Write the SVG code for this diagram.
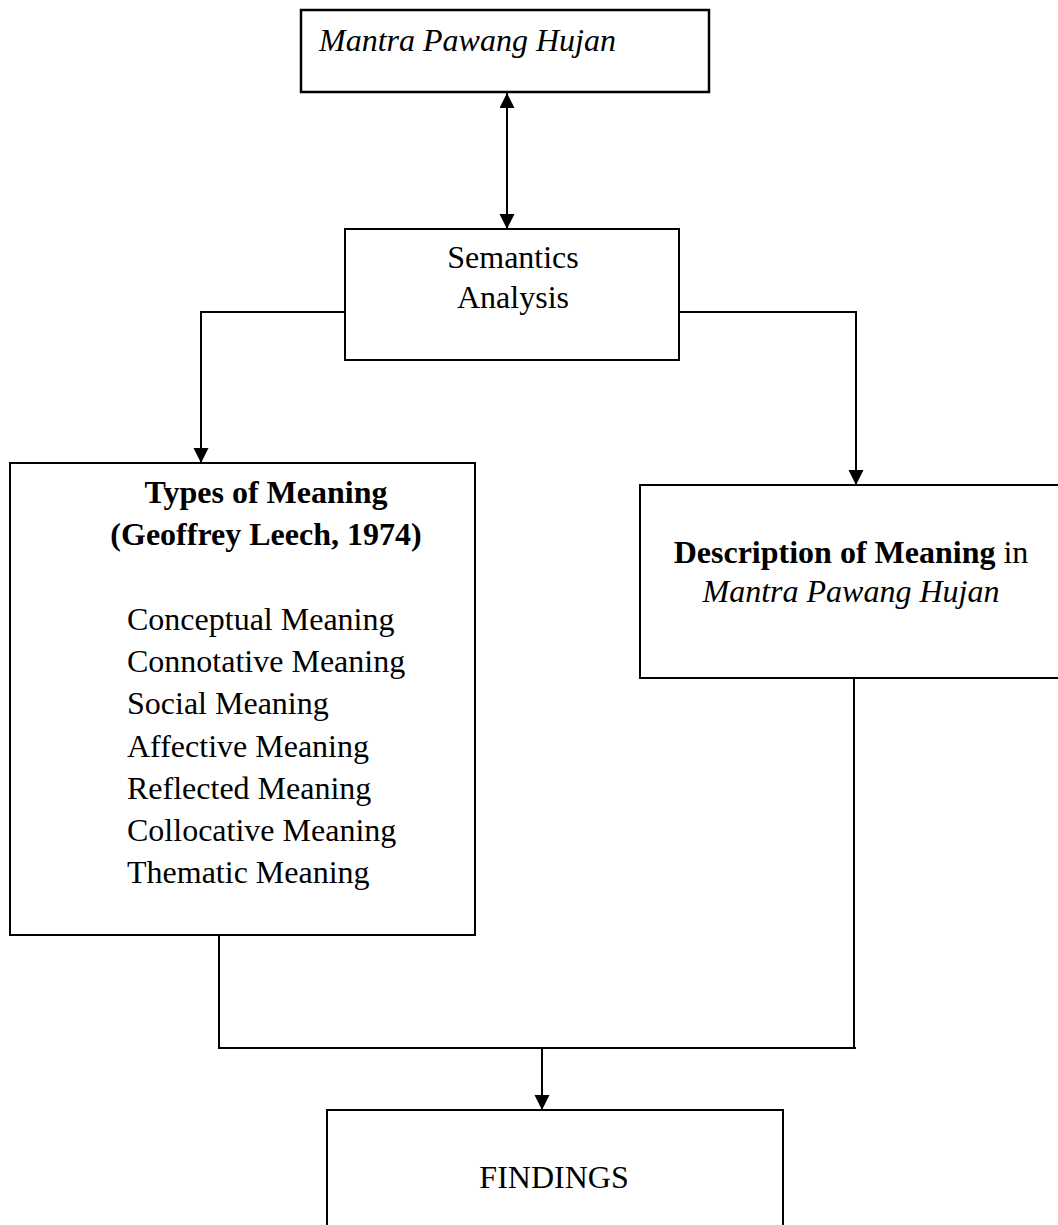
<svg xmlns="http://www.w3.org/2000/svg" width="1058" height="1225" viewBox="0 0 1058 1225">
<style>
.box{fill:#fff;stroke:#000;stroke-width:2}
.t{font-family:"Liberation Serif","Times New Roman",serif;font-size:32px;fill:#000}
.b{font-weight:bold}
.i{font-style:italic}
.c{fill:none;stroke:#000;stroke-width:2}
</style>
<defs>
<marker id="ah" markerUnits="userSpaceOnUse" markerWidth="16" markerHeight="16" refX="15" refY="7.5" orient="auto-start-reverse">
<path d="M0,0 L15,7.5 L0,15 z" fill="#000"/>
</marker>
</defs>
<rect width="1058" height="1225" fill="#fff"/>
<g id="connectors">
<line class="c" x1="507" y1="93" x2="507" y2="229" marker-start="url(#ah)" marker-end="url(#ah)"/>
<path class="c" d="M345,312 H201 V463" marker-end="url(#ah)"/>
<path class="c" d="M679,312 H856 V485" marker-end="url(#ah)"/>
<path class="c" d="M219,936 V1048 H856"/>
<path class="c" d="M854,678 V1048"/>
<line class="c" x1="542" y1="1048" x2="542" y2="1110" marker-end="url(#ah)"/>
</g>
<g id="mantra">
<rect class="box" x="301" y="10" width="408" height="82" style="stroke-width:2.5"/>
<text class="t i" x="319" y="51">Mantra Pawang Hujan</text>
</g>
<g id="semantics">
<rect class="box" x="345" y="229" width="334" height="131"/>
<text class="t" x="513" y="268" text-anchor="middle">Semantics</text>
<text class="t" x="513" y="308" text-anchor="middle">Analysis</text>
</g>
<g id="types">
<rect class="box" x="10" y="463" width="465" height="472"/>
<text class="t b" x="266" y="503" text-anchor="middle">Types of Meaning</text>
<text class="t b" x="266" y="545" text-anchor="middle">(Geoffrey Leech, 1974)</text>
<text class="t" x="127" y="630">Conceptual Meaning</text>
<text class="t" x="127" y="672">Connotative Meaning</text>
<text class="t" x="127" y="714">Social Meaning</text>
<text class="t" x="127" y="757">Affective Meaning</text>
<text class="t" x="127" y="799">Reflected Meaning</text>
<text class="t" x="127" y="841">Collocative Meaning</text>
<text class="t" x="127" y="883">Thematic Meaning</text>
</g>
<g id="description">
<rect class="box" x="640" y="485" width="430" height="193"/>
<text class="t" x="851" y="563" text-anchor="middle"><tspan class="b">Description of Meaning</tspan> in</text>
<text class="t i" x="851" y="602" text-anchor="middle">Mantra Pawang Hujan</text>
</g>
<g id="findings">
<rect class="box" x="327" y="1110" width="456" height="130"/>
<text class="t" x="554" y="1188" text-anchor="middle">FINDINGS</text>
</g>
</svg>
